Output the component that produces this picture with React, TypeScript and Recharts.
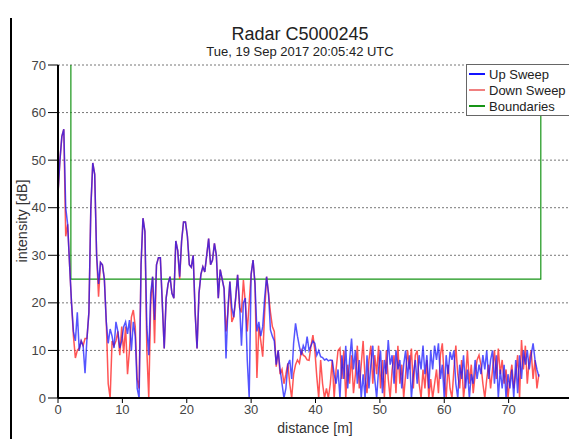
import { LineChart, Line, XAxis, YAxis, CartesianGrid } from "recharts";

// === 데이터 ===
// 거리 간격 0.3 m, 0 ~ 74.7 m
const STEP = 0.3;

const upSweep = [
  43, 50, 55, 56.5, 40, 36.5, 28, 20, 14, 12,
  18, 10, 12, 11, 5.2, 12.5, 18, 40, 49.4, 47,
  30, 24, 28.5, 28, 25, 16, 11.5, 14.5, 13, 10.5,
  16, 14, 10.5, 12, 15, 16, 13.5, 16.4, 10, 16,
  13, 2, 0, 28, 37.8, 35, 15, 9, 22, 25.5,
  16.4, 28, 29.5, 29.5, 20, 10.4, 21, 24, 25.5, 22,
  21, 33, 31, 25.5, 33, 37, 37, 34, 28, 27.5,
  30, 18, 10.4, 22, 26, 27.6, 26.5, 30, 33.5, 28,
  29, 32.5, 30, 21, 27, 25, 23, 8.3, 19, 24.5,
  19, 17, 21, 25.9, 20, 11, 20, 21, 8, 0,
  26, 29, 24, 14, 16, 13, 15, 21, 25.5, 22,
  14.3, 13, 12, 7, 10, 6, 3, 0, 2, 7,
  8, 4, 11.5, 15.7, 13, 10.8, 9, 11, 10, 12.9,
  10, 11, 12, 11.5, 9, 10, 8.7, 8.5, 8, 8.2,
  7.8, 8, 7.9, 5, 3, 6, 0, 9, 4, 11,
  2, 8, 12.5, 6, 10, 3, 8, 0, 5, 0,
  9, 2, 7, 11, 4, 0, 6, 10, 1, 8,
  5, 12.2, 7, 9, 3, 10, 6, 8, 2, 7,
  10, 4, 9, 0, 5, 8, 3, 9, 6, 11,
  5, 9, 2, 10, 6, 11, 8, 11.5, 4, 7,
  0, 9, 5, 9.7, 8, 10, 3, 0, 7, 4,
  9, 2, 6, 0, 5, 3, 8, 4, 7, 5,
  9, 6, 10, 4, 8, 10, 3, 9, 0, 6,
  2, 7, 0, 5, 2, 6, 0, 8, 1, 9,
  4, 10, 7, 10, 6, 9, 11.5, 8, 6, 4.5,
];

const downSweep = [
  43, 50, 55, 56.5, 34, 36.5, 28, 20, 13, 8.4,
  10, 10.5, 12, 11, 12.5, 12.5, 18, 40, 49.4, 47,
  30, 21.3, 28.5, 28, 25, 16, 3, 0, 12, 11,
  12, 14, 9, 15, 9.4, 15, 5, 10, 17, 18.5,
  15, 4, 2, 28, 37.8, 35, 10, 0, 20, 25.5,
  11.5, 28, 29.5, 29.5, 20, 10.4, 21, 24, 25.5, 22,
  21, 33, 31, 25, 33, 37, 37, 34, 28, 27.5,
  30, 18, 10.4, 22, 26, 27.6, 26.5, 30, 33.5, 28,
  29, 32.5, 30, 21, 27, 25, 23, 14, 18, 24.5,
  16, 17, 21, 25.9, 19, 18, 24.8, 20, 14, 20,
  26, 29, 24, 4.2, 15, 12, 8.7, 18, 25.5, 22,
  18, 15, 14, 6.6, 10, 5, 6, 3, 5, 7.3,
  3, 0, 5, 7, 8, 7.3, 10, 9, 8.7, 8,
  7.9, 11, 13.2, 10, 4.5, 0, 8, 3, 0, 2,
  0, 3, 8, 0, 6, 10, 10.5, 4, 10, 0,
  7, 3, 9, 1, 5, 11, 2, 7, 12, 4,
  1, 8, 11, 3, 9, 5, 11, 2, 8, 0,
  10, 4, 0, 6, 9, 1, 11, 3, 7, 0,
  5, 10, 6, 10.4, 2, 9, 10, 3, 0, 6,
  2, 8, 0, 4, 0, 3, 6, 1, 9, 11.5,
  4, 0, 7, 2, 0, 6, 11, 5, 2, 8,
  0, 4, 10, 3, 7, 1, 5, 8, 9, 7,
  3, 0, 4, 7, 2, 6, 10, 4, 10.4, 5,
  8, 3, 6, 0, 4, 7, 2, 5, 9, 0,
  12.2, 6, 11, 3, 8, 10, 4, 8, 2, 5,
];

// 경계선 (거리, 강도)
const boundaryDistance = [2, 2, 75, 75];
const boundaryLevel = [70, 25, 25, 70];

const xTicks = [0, 10, 20, 30, 40, 50, 60, 70];
const yTicks = [0, 10, 20, 30, 40, 50, 60, 70];

// === 상수 ===
const COLORS = {
  up: "#1414ff",
  down: "#ff2a2a",
  boundary: "#169416",
  grid: "#777777",
  tick: "#444444",
  axis: "#000000",
} as const;

const FONT = '"Liberation Sans", Arial, sans-serif';

const distance = upSweep.map((_, i) => Number((i * STEP).toFixed(1)));
const sweepData = upSweep.map((u, i) => ({
  d: distance[i],
  up: u,
  down: downSweep[i],
}));
const boundaryData = boundaryDistance.map((d, i) => ({
  d,
  bound: boundaryLevel[i],
}));

const legendItems = [
  { name: "Up Sweep", color: COLORS.up },
  { name: "Down Sweep", color: "#f08080" },
  { name: "Boundaries", color: COLORS.boundary },
];

export default function App() {
  return (
    <div
      style={{
        position: "absolute",
        left: 0,
        top: 0,
        width: 569,
        height: 439,
        overflow: "hidden",
        background: "#fff",
        fontFamily: FONT,
      }}
    >
      {/* 왼쪽 테두리 */}
      <div
        style={{
          position: "absolute",
          left: 10,
          top: 18,
          width: 2,
          height: 421,
          background: "#000",
        }}
      />

      {/* 제목 */}
      <div
        style={{
          position: "absolute",
          left: 0,
          width: 600,
          top: 24,
          textAlign: "center",
          fontSize: 18,
          color: "#222",
          lineHeight: "20px",
        }}
      >
        Radar C5000245
      </div>
      <div
        style={{
          position: "absolute",
          left: 0,
          width: 600,
          top: 45,
          textAlign: "center",
          fontSize: 13,
          color: "#222",
          lineHeight: "14px",
        }}
      >
        Tue, 19 Sep 2017 20:05:42 UTC
      </div>

      <div style={{ position: "absolute", left: 0, top: 0 }}>
        <LineChart
          width={620}
          height={439}
          data={sweepData}
          margin={{ top: 65, right: 47, left: 0, bottom: 11 }}
        >
          <CartesianGrid
            vertical={false}
            stroke={COLORS.grid}
            strokeDasharray="2 2"
          />
          <XAxis
            dataKey="d"
            type="number"
            domain={[0, 80]}
            ticks={xTicks}
            height={30}
            tickSize={5}
            axisLine={{ stroke: COLORS.axis, strokeWidth: 2 }}
            tickLine={{ stroke: COLORS.axis }}
            tick={{ fontSize: 13, fill: COLORS.tick, fontFamily: FONT }}
            allowDataOverflow
          />
          <YAxis
            type="number"
            domain={[0, 70]}
            ticks={yTicks}
            width={58}
            tickSize={10}
            axisLine={{ stroke: COLORS.axis, strokeWidth: 2 }}
            tickLine={{ stroke: COLORS.axis }}
            tick={{ fontSize: 13, fill: COLORS.tick, fontFamily: FONT }}
            allowDataOverflow
          />
          <Line
            data={boundaryData}
            dataKey="bound"
            name="Boundaries"
            type="linear"
            stroke={COLORS.boundary}
            strokeWidth={1.2}
            dot={false}
            isAnimationActive={false}
          />
          <Line
            dataKey="down"
            name="Down Sweep"
            type="linear"
            stroke={COLORS.down}
            strokeOpacity={0.8}
            strokeWidth={1.5}
            dot={false}
            isAnimationActive={false}
          />
          <Line
            dataKey="up"
            name="Up Sweep"
            type="linear"
            stroke={COLORS.up}
            strokeOpacity={0.72}
            strokeWidth={1.5}
            dot={false}
            isAnimationActive={false}
          />
        </LineChart>
      </div>

      {/* 축 제목 */}
      <div
        style={{
          position: "absolute",
          left: 215,
          width: 200,
          top: 420,
          textAlign: "center",
          fontSize: 14,
          color: "#333",
          lineHeight: "16px",
        }}
      >
        distance [m]
      </div>
      <div
        style={{
          position: "absolute",
          left: 22 - 80,
          top: 221 - 8,
          width: 160,
          textAlign: "center",
          fontSize: 14.5,
          color: "#333",
          lineHeight: "16px",
          transform: "rotate(-90deg)",
        }}
      >
        intensity [dB]
      </div>

      {/* 범례 */}
      <div
        style={{
          position: "absolute",
          left: 466,
          top: 64,
          width: 110,
          height: 52,
          background: "#fff",
          border: "1.5px solid #666",
          boxSizing: "border-box",
          paddingTop: 1,
        }}
      >
        {legendItems.map((item) => (
          <div
            key={item.name}
            style={{
              display: "flex",
              alignItems: "center",
              height: 16,
              fontSize: 13,
              color: "#222",
            }}
          >
            <span
              style={{
                display: "inline-block",
                width: 16,
                height: 1.5,
                marginLeft: 2,
                marginRight: 4,
                background: item.color,
              }}
            />
            {item.name}
          </div>
        ))}
      </div>
    </div>
  );
}
